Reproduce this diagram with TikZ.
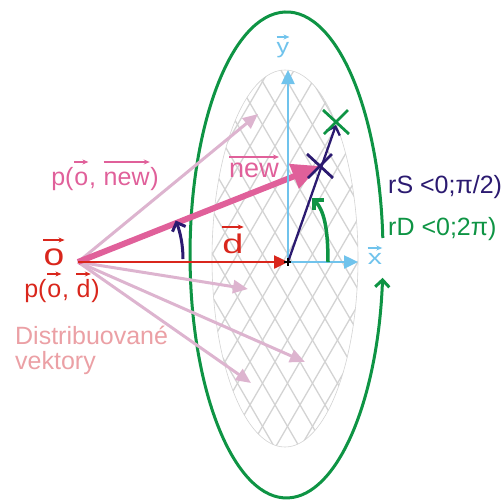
\documentclass[tikz,border=0pt]{standalone}
\usepackage{fontspec}
\usepackage{graphicx}
\setmainfont{Liberation Sans}
\usetikzlibrary{arrows.meta,calc}

\definecolor{dred}{HTML}{D9261C}
\definecolor{npink}{HTML}{E0609A}
\definecolor{lpink}{HTML}{DDB4CF}
\definecolor{tpink}{HTML}{EBA0A5}
\definecolor{navy}{HTML}{2B1A70}
\definecolor{dgreen}{HTML}{0E9444}
\definecolor{lblue}{HTML}{70C3EC}
\definecolor{hatch}{HTML}{D3D3D3}

% vector arrow over a text, #1 = height of the arrow above the baseline
\newcommand{\varr}[2][23pt]{\tikz[baseline=(vt.base)]{\node[inner sep=0pt] (vt) {#2};
  \draw[line width=1.2pt,-{Stealth[length=6pt,width=5pt]}] ([yshift=#1]vt.base west) -- ([yshift=#1]vt.base east);}}
\newcommand{\wide}[2][1.35]{\scalebox{#1}[1]{#2}}

\begin{document}
\begin{tikzpicture}[x=1pt,y=-1pt,
  txt/.style={font=\fontsize{25}{26}\selectfont, inner sep=0pt, anchor=base},
  distvec/.style={lpink, line width=3pt, -{Triangle[length=15pt,width=13pt]}},
  axis/.style={lblue, line width=2.5pt, -{Triangle[length=14pt,width=13pt]}},
  barb/.style={-{Straight Barb[angle=90:10pt]}},
  cross/.style={line width=2.8pt}]
  \useasboundingbox (0,0) rectangle (504,499);

  % main points
  \coordinate (O) at (78,262);
  \coordinate (C) at (288,262);
  \coordinate (Xend) at (358,262);
  \coordinate (Yend) at (288,70);
  \coordinate (N) at (320,166);
  \coordinate (G) at (336,122);
  \coordinate (S) at (336,125);

  % hatched area of the disc
  \begin{scope}
    \clip (285,258.5) ellipse [x radius=73, y radius=188.5];
    \foreach \c in {-50,-25,...,625}
      \draw[hatch, line width=1.3pt] (\c,60) -- ++(232,400) (\c,60) -- ++(-232,400);
  \end{scope}
  \draw[hatch, line width=0.6pt] (285,258.5) ellipse [x radius=73, y radius=188.5];

  % big green ellipse with gap
  \draw[dgreen, line width=3pt, barb] (382.8,238) arc[start angle=-4.0, end angle=-354.6, x radius=96.5, y radius=243];

  % distributed vectors
  \coordinate (D1) at (258,114);
  \coordinate (D2) at (248,289);
  \coordinate (D3) at (305,362);
  \coordinate (D4) at (251,383);
  \foreach \t in {D1,D2,D3,D4}
    \draw[distvec] (O) -- (\t);

  % chosen vector p(o,new)
  \draw[npink, line width=6pt, -{Triangle[length=28pt,width=25pt]}] (O) -- (N);

  % direction d
  \draw[dred, line width=2.5pt, -{Triangle[length=14pt,width=13pt]}] (O) -- (C);

  % local axes
  \draw[axis] (C) -- (Xend);
  \draw[axis] (C) -- (Yend);

  % sampled direction
  \draw[navy, line width=2.3pt, barb] (C) -- (S);
  \draw[black, line width=2pt] (284,262) -- (291,262) (288,258) -- (288,266);

  % crosses
  \draw[navy, cross] ($(N)+(-13,-12)$) -- ($(N)+(13,12)$) ($(N)+(-12,12)$) -- ($(N)+(12,-12)$);
  \draw[dgreen, cross] ($(G)+(-13,-12)$) -- ($(G)+(13,12)$) ($(G)+(-12,12)$) -- ($(G)+(12,-12)$);

  % angles
  \draw[dgreen, line width=3.5pt, barb] (328,262) .. controls (328,228) and (324,210) .. (312,198);
  \draw[navy, line width=3pt, barb] (183,259) arc[start angle=0, end angle=-21.5, radius=105];

  % labels
  \node[txt, dred, font=\fontsize{31}{32}\selectfont] (olbl) at (54,265) {\varr[25pt]{\wide[1.2]{o}}};
  \node[txt, dred] (pod) at (62,297) {p(\varr{o}, \varr{d})};
  \node[txt, npink] (ponew) at (105,185) {p(\varr{o}, \varr{new})};
  \node[txt, tpink, anchor=base west] (dist1) at (15,344) {Distribuované};
  \node[txt, tpink, anchor=base west] (dist2) at (15,369) {vektory};
  \node[txt, npink, font=\fontsize{27}{28}\selectfont] (newlbl) at (254,177) {\varr[20pt]{new}};
  \node[txt, dred, font=\fontsize{27}{28}\selectfont] (dlbl) at (233,253) {\varr[26pt]{\wide[1.4]{d}}};
  \node[txt, lblue, font=\fontsize{21}{22}\selectfont] (xlbl) at (375,264) {\varr[16pt]{\wide[1.35]{x}}};
  \node[txt, lblue, font=\fontsize{21}{22}\selectfont] (ylbl) at (283,53) {\varr[16pt]{\wide[1.2]{y}}};
  \node[txt, navy, anchor=base west] (rs) at (388,193) {rS <0;π/2)};
  \node[txt, dgreen, anchor=base west] (rd) at (388,235) {rD <0;2π)};
\end{tikzpicture}
\end{document}
